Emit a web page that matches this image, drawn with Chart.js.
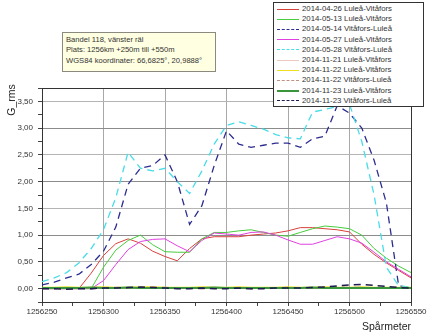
<!DOCTYPE html>
<html lang="sv">
<head>
<meta charset="UTF-8" />
<title>G_rms per spårmeter</title>
<script src="https://cdn.jsdelivr.net/npm/chart.js"></script>
<style>
  html, body { margin: 0; padding: 0; background: #fff; }
  body { width: 430px; height: 333px; position: relative; overflow: hidden; font-family: "Liberation Sans", Arial, sans-serif; }
  #wrap { position: absolute; left: 0; top: 0; width: 430px; height: 333px; }
  #info {
    position: absolute; left: 62px; top: 32px; width: 146px; height: 34px;
    background: #ffffe1; border: 1px solid #8a8a80; padding: 2px 3px;
    font-size: 7.6px; line-height: 10.4px; color: #333;
  }
  #legend {
    position: absolute; left: 273px; top: 2px; width: 149px; height: 102px;
    background: #fff; border: 1px solid #333; padding: 1px 0 0 0;
    font-size: 7.8px; color: #333;
  }
  #legend .row { height: 10.2px; line-height: 10.2px; display: flex; align-items: center; }
  #legend .swatch { width: 22px; margin: 0 3px 0 3px; height: 0; }
  #ytitle {
    position: absolute; left: -9px; top: 94px; width: 40px; height: 12px;
    transform: rotate(-90deg); transform-origin: center;
    font-size: 10.5px; line-height: 12px; color: #222; text-align: center;
  }
</style>
</head>
<body>
<div id="wrap"><canvas id="chart" width="430" height="333"></canvas></div>
<div id="ytitle">G_rms</div>
<div id="info">Bandel 118, vänster räl<br>Plats: 1256km +250m till +550m<br>WGS84 koordinater: 66,6825°, 20,9888°</div>
<div id="legend"></div>
<script>
  // spårmeter, var 10:e meter
  const distances = [1256250, 1256260, 1256270, 1256280, 1256290, 1256300, 1256310, 1256320, 1256330, 1256340,
    1256350, 1256360, 1256370, 1256380, 1256390, 1256400, 1256410, 1256420, 1256430, 1256440,
    1256450, 1256460, 1256470, 1256480, 1256490, 1256500, 1256510, 1256520, 1256530, 1256540, 1256550];

  const labels = ['2014-04-26 Luleå-Vitåfors', '2014-05-13 Luleå-Vitåfors', '2014-05-14 Vitåfors-Luleå',
    '2014-05-27 Luleå-Vitåfors', '2014-05-28 Vitåfors-Luleå', '2014-11-21 Luleå-Vitåfors',
    '2014-11-22 Luleå-Vitåfors', '2014-11-22 Vitåfors-Luleå', '2014-11-23 Luleå-Vitåfors',
    '2014-11-23 Vitåfors-Luleå'];

  const g0426 = [0.00, 0.00, 0.00, 0.00, 0.29, 0.62, 0.84, 0.93, 0.85, 0.70, 0.60, 0.52, 0.75, 0.93, 0.97, 0.97,
    0.97, 1.00, 1.02, 1.04, 1.08, 1.14, 1.14, 1.12, 1.10, 1.06, 0.83, 0.64, 0.48, 0.34, 0.20];
  const g0513 = [0.00, 0.00, 0.00, 0.00, 0.00, 0.40, 0.72, 0.90, 1.00, 0.82, 0.69, 0.68, 0.68, 0.93, 1.05, 1.05,
    1.08, 1.10, 1.05, 1.00, 0.98, 1.05, 1.12, 1.17, 1.15, 1.12, 1.00, 0.75, 0.57, 0.42, 0.30];
  const g0514 = [0.07, 0.12, 0.20, 0.27, 0.45, 0.70, 1.15, 1.95, 2.25, 2.30, 2.50, 2.00, 1.20, 1.55, 2.30, 2.95,
    2.70, 2.64, 2.68, 2.72, 2.72, 2.64, 2.80, 2.85, 3.42, 3.28, 3.00, 2.40, 1.60, 0.05, 0.02];
  const g0527 = [0.00, 0.00, 0.00, 0.00, 0.00, 0.15, 0.45, 0.73, 0.88, 0.92, 0.93, 0.80, 0.69, 0.90, 1.04, 1.02,
    1.00, 1.05, 1.06, 1.00, 0.91, 0.83, 0.83, 0.90, 0.97, 0.93, 0.85, 0.68, 0.50, 0.36, 0.22];
  const g0528 = [0.13, 0.20, 0.30, 0.48, 0.75, 1.10, 1.70, 2.55, 2.25, 2.20, 2.25, 2.00, 1.78, 2.20, 2.70, 3.05,
    3.12, 3.05, 2.98, 2.88, 2.82, 2.80, 3.30, 3.35, 3.40, 3.45, 2.75, 1.75, 0.40, 0.05, 0.03];
  const g1121 = [0.02, 0.01, 0.01, 0.02, 0.01, 0.02, 0.01, 0.01, 0.02, 0.02, 0.01, 0.01, 0.02, 0.01, 0.01, 0.02,
    0.01, 0.02, 0.02, 0.01, 0.01, 0.02, 0.02, 0.02, 0.01, 0.01, 0.02, 0.01, 0.02, 0.02, 0.01];
  const g1122a = [0.02, 0.02, 0.03, 0.02, 0.02, 0.03, 0.02, 0.02, 0.03, 0.03, 0.02, 0.02, 0.02, 0.03, 0.02, 0.02,
    0.03, 0.02, 0.02, 0.02, 0.03, 0.02, 0.02, 0.03, 0.02, 0.02, 0.03, 0.02, 0.02, 0.02, 0.02];
  const g1122b = [0.01, 0.00, 0.01, 0.01, 0.00, 0.01, 0.02, 0.01, 0.02, 0.03, 0.02, 0.01, 0.01, 0.00, 0.01, 0.01,
    0.01, 0.00, 0.01, 0.01, 0.02, 0.01, 0.01, 0.02, 0.03, 0.02, 0.02, 0.01, 0.01, 0.02, 0.01];
  const g1123a = [0.01, 0.01, 0.01, 0.01, 0.02, 0.01, 0.01, 0.02, 0.01, 0.01, 0.01, 0.01, 0.01, 0.01, 0.02, 0.01,
    0.01, 0.01, 0.01, 0.01, 0.01, 0.01, 0.02, 0.01, 0.01, 0.01, 0.01, 0.01, 0.01, 0.01, 0.01];
  const g1123b = [0.00, 0.00, -0.01, 0.00, 0.00, 0.01, 0.01, 0.02, 0.03, 0.02, 0.01, 0.00, 0.00, 0.01, 0.00, 0.00,
    0.01, 0.00, 0.00, 0.01, 0.01, 0.01, 0.02, 0.03, 0.05, 0.07, 0.08, 0.06, 0.04, 0.02, 0.01];

  const yTicks = [0, 0.5, 1, 1.5, 2, 2.5, 3, 3.5];
  const xTicks = [1256250, 1256300, 1256350, 1256400, 1256450, 1256500, 1256550];

  const series = [g0426, g0513, g0514, g0527, g0528, g1121, g1122a, g1122b, g1123a, g1123b];
  const colors = ['#d8403c', '#46cc3c', '#2c2c90', '#e040e0', '#48dce8', '#ecc8c0', '#eee020', '#c09080', '#3a963a', '#1c1c50'];
  const dashed = [false, false, true, false, true, false, false, true, false, true];
  const widths = [1, 1, 1.3, 1, 1.3, 1.2, 1.5, 1.5, 2, 1.5];

  const datasets = series.map((vals, i) => ({
    label: labels[i],
    data: vals.map((v, j) => ({ x: distances[j], y: v })),
    borderColor: colors[i],
    backgroundColor: colors[i],
    borderWidth: widths[i],
    borderDash: dashed[i] ? [7, 5] : [],
    pointRadius: 0,
    tension: 0,
    fill: false
  })).reverse(); // rita de första serierna överst

  const isMult = (v, step) => Math.abs(v / step - Math.round(v / step)) < 1e-6;

  new Chart(document.getElementById('chart'), {
    type: 'line',
    data: { datasets },
    options: {
      responsive: false,
      animation: false,
      layout: { padding: { top: 88, right: 19, left: 0, bottom: 0 } },
      plugins: { legend: { display: false }, tooltip: { enabled: false } },
      scales: {
        x: {
          type: 'linear',
          min: 1256250,
          max: 1256550,
          afterFit: s => { s.height = 31; },
          ticks: {
            stepSize: 25,
            autoSkip: false,
            maxRotation: 0,
            padding: 1,
            color: '#333',
            font: { family: 'Liberation Sans', size: 8 },
            callback: v => xTicks.includes(v) ? String(v) : ''
          },
          grid: {
            color: c => (c.tick && isMult(c.tick.value, 50)) ? '#a8a8a8' : 'rgba(0,0,0,0)',
            tickColor: '#444',
            tickLength: 4
          },
          border: { color: '#333', width: 1 },
          title: {
            display: true, text: 'Spårmeter', align: 'end', color: '#222',
            font: { family: 'Liberation Sans', size: 10.5 }, padding: { top: 0, bottom: 0 }
          }
        },
        y: {
          min: -0.25,
          max: 3.75,
          afterFit: s => { s.width = 42; },
          ticks: {
            stepSize: 0.25,
            autoSkip: false,
            padding: 5,
            color: '#333',
            font: { family: 'Liberation Sans', size: 8 },
            callback: v => yTicks.some(t => Math.abs(t - v) < 1e-6) ? v.toFixed(2).replace('.', ',') : ''
          },
          grid: {
            color: c => {
              if (!c.tick || !isMult(c.tick.value, 0.5) || c.tick.value < 0) return 'rgba(0,0,0,0)';
              return isMult(c.tick.value, 1) ? '#8c8c8c' : '#b4b4b4';
            },
            tickColor: '#444',
            tickLength: 4
          },
          border: { color: '#333', width: 1 }
        },
        x2: { position: 'top', type: 'linear', display: true, ticks: { display: false }, grid: { display: false, drawTicks: false }, border: { color: '#333' }, afterFit: s => { s.height = 0; } },
        y2: { position: 'right', display: true, ticks: { display: false }, grid: { display: false, drawTicks: false }, border: { color: '#333' }, afterFit: s => { s.width = 0; } }
      }
    }
  });

  // egen legend-ruta
  const legend = document.getElementById('legend');
  labels.forEach((lab, i) => {
    const row = document.createElement('div');
    row.className = 'row';
    const sw = document.createElement('span');
    sw.className = 'swatch';
    sw.style.borderTop = (dashed[i] ? Math.max(1.5, widths[i]) + 'px dashed ' : Math.max(1, widths[i]) + 'px solid ') + colors[i];
    const txt = document.createElement('span');
    txt.textContent = lab;
    row.appendChild(sw);
    row.appendChild(txt);
    legend.appendChild(row);
  });
</script>
</body>
</html>
